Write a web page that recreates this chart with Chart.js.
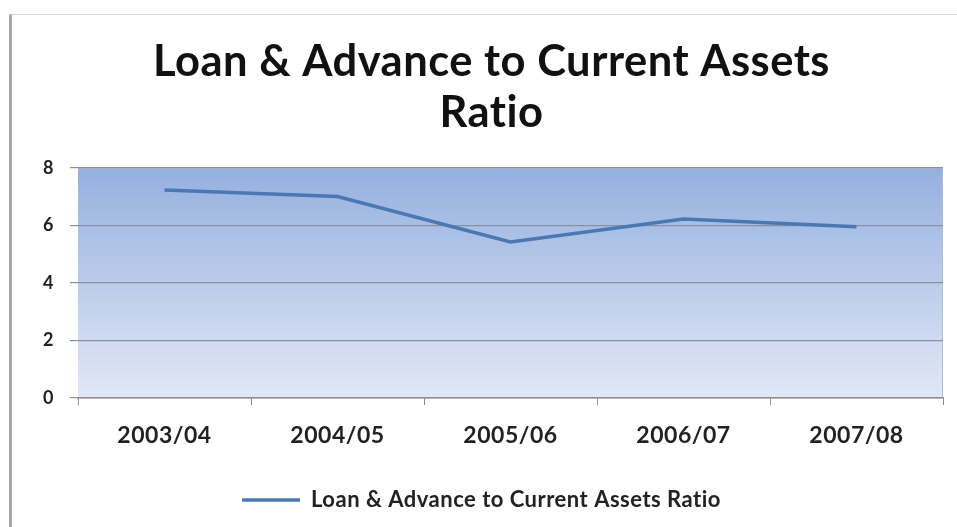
<!DOCTYPE html>
<html lang="en">

<head>
    <meta charset="UTF-8">
    <title>Loan & Advance to Current Assets Ratio</title>
    <script src="https://cdn.jsdelivr.net/npm/chart.js"></script>
    <style>
        body {
            margin: 0;
            background: #ffffff;
        }

        .frame {
            position: relative;
            width: 957px;
            height: 527px;
        }

        /* grey edge around the chart box */
        .frame .edge {
            position: absolute;
            left: 9px;
            top: 14px;
            right: 0;
            bottom: 0;
            border-left: 3px solid #a6a6a6;
            border-top: 1px solid #d8d8d8;
            pointer-events: none;
        }

        canvas {
            position: absolute;
            left: 0;
            top: 0;
        }
    </style>
</head>

<body>
    <div class="frame">
        <canvas id="ratioChart" width="957" height="527"></canvas>
        <div class="edge"></div>
    </div>
    <script>
        // Years and ratio values
        const years = ['2003/04', '2004/05', '2005/06', '2006/07', '2007/08'];
        const ratios = [7.23, 7.0, 5.42, 6.22, 5.95];
        const yTicks = [0, 2, 4, 6, 8];
        const seriesName = 'Loan & Advance to Current Assets Ratio';

        const fontFamily = 'Lato, "Open Sans", sans-serif';

        // a little spacing keeps Lato from joining "ti"; set again after canvas resets
        const textSpacing = {
            id: 'textSpacing',
            beforeLayout(chart) {
                chart.ctx.letterSpacing = '0.5px';
            },
            afterLayout(chart) {
                // title sits a bit right of the legend
                if (chart.titleBlock) {
                    chart.titleBlock.left += 10;
                    chart.titleBlock.right += 10;
                }
            },
            beforeDraw(chart) {
                chart.ctx.letterSpacing = '0.5px';
            }
        };

        // Blue gradient behind the plot area
        const plotBackground = {
            id: 'plotBackground',
            beforeDraw(chart) {
                const { ctx, chartArea } = chart;
                const g = ctx.createLinearGradient(0, chartArea.top, 0, chartArea.bottom);
                g.addColorStop(0, '#95b0df');
                g.addColorStop(1, '#e1e8f6');
                ctx.save();
                ctx.fillStyle = g;
                ctx.fillRect(chartArea.left, chartArea.top, chartArea.width, chartArea.height);
                // thin outline on top and right
                ctx.strokeStyle = '#b4bccb';
                ctx.lineWidth = 1;
                ctx.beginPath();
                ctx.moveTo(chartArea.left, chartArea.top + 0.5);
                ctx.lineTo(chartArea.right - 0.5, chartArea.top + 0.5);
                ctx.lineTo(chartArea.right - 0.5, chartArea.bottom);
                ctx.stroke();
                ctx.restore();
            }
        };

        const ctx = document.getElementById('ratioChart').getContext('2d');

        new Chart(ctx, {
            type: 'line',
            data: {
                labels: years,
                datasets: [{
                    label: seriesName,
                    data: ratios,
                    borderColor: '#4a78b4',
                    backgroundColor: '#4a78b4',
                    borderWidth: 3.5,
                    pointRadius: 0,
                    tension: 0
                }]
            },
            options: {
                responsive: false,
                animation: false,
                layout: {
                    padding: { left: 20, right: 14, top: 37, bottom: 6 }
                },
                plugins: {
                    title: {
                        display: true,
                        text: ['Loan & Advance to Current Assets', 'Ratio'],
                        color: '#111111',
                        font: { family: fontFamily, size: 43.5, weight: 'bold', lineHeight: 1.17 },
                        padding: { top: 0, bottom: 29 }
                    },
                    legend: {
                        position: 'bottom',
                        labels: {
                            color: '#222222',
                            font: { family: fontFamily, size: 22, weight: 'bold' },
                            usePointStyle: true,
                            pointStyle: 'line',
                            pointStyleWidth: 58,
                            padding: 14
                        }
                    },
                    tooltip: { enabled: false }
                },
                scales: {
                    x: {
                        offset: true,
                        afterFit(scale) {
                            scale.height = 77;
                        },
                        grid: {
                            offset: true,
                            drawOnChartArea: false,
                            color: '#8c8c8c',
                            tickLength: 7
                        },
                        border: { color: '#8c8c8c', width: 1.5 },
                        ticks: {
                            color: '#222222',
                            font: { family: fontFamily, size: 23, weight: 'bold' },
                            padding: 17
                        }
                    },
                    y: {
                        min: 0,
                        max: 8,
                        afterBuildTicks(scale) {
                            scale.ticks = yTicks.map(v => ({ value: v }));
                        },
                        afterFit(scale) {
                            scale.width = 58;
                        },
                        grid: {
                            color: '#8a90a0',
                            lineWidth: 1.2,
                            tickLength: 8
                        },
                        border: { display: false },
                        ticks: {
                            color: '#222222',
                            font: { family: fontFamily, size: 18, weight: 'bold' },
                            padding: 16
                        }
                    }
                }
            },
            plugins: [textSpacing, plotBackground]
        });
    </script>
</body>

</html>
